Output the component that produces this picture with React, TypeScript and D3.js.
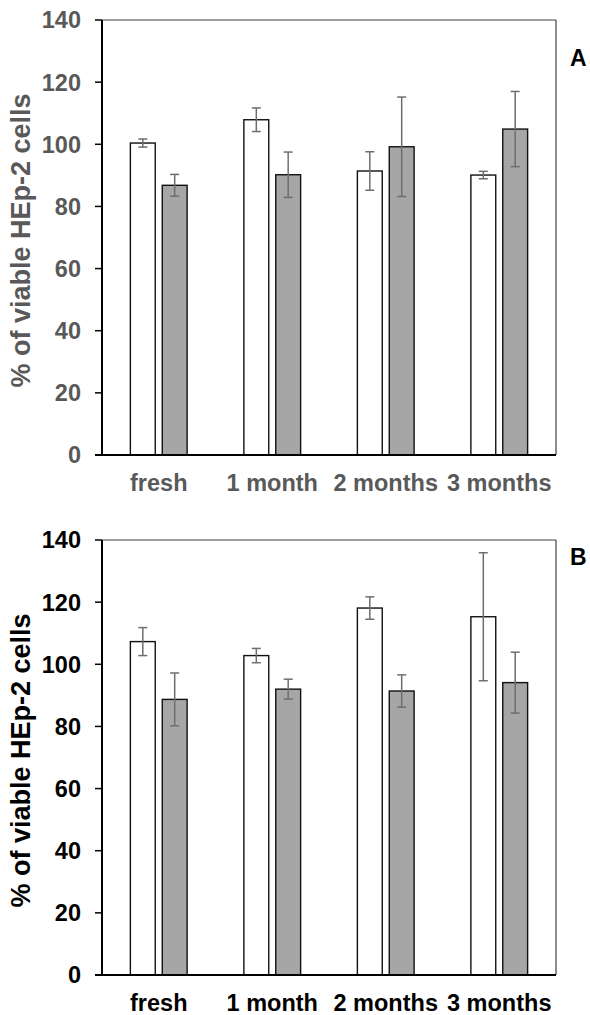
import React from "react";
import * as d3 from "d3";

const categories = ["fresh", "1 month", "2 months", "3 months"];
const yTicks = [0, 20, 40, 60, 80, 100, 120, 140];

const aWhite = [100.4, 107.9, 91.4, 90.1];
const aWhiteErr = [1.3, 3.8, 6.2, 1.2];
const aGray = [86.8, 90.2, 99.2, 104.9];
const aGrayErr = [3.5, 7.3, 16.0, 12.1];

const bWhite = [107.3, 102.8, 118.1, 115.3];
const bWhiteErr = [4.5, 2.3, 3.6, 20.6];
const bGray = [88.7, 92.0, 91.4, 94.1];
const bGrayErr = [8.5, 3.2, 5.2, 9.8];

const yLabel = "% of viable HEp-2 cells";
const FONT = "'Liberation Sans', Arial, sans-serif";

type PanelProps = {
  top: number;
  letter: string;
  letterY: number;
  textColor: string;
  white: number[];
  whiteErr: number[];
  gray: number[];
  grayErr: number[];
};

function Panel({ top, letter, letterY, textColor, white, whiteErr, gray, grayErr }: PanelProps) {
  const left = 102;
  const right = 556;
  const bottom = top + 435;
  const x0 = d3.scaleBand<string>().domain(categories).range([left, right]).paddingInner(0.5).paddingOuter(0.25);
  const x1 = d3.scaleBand<string>().domain(["w", "g"]).range([0, x0.bandwidth()]).paddingInner(0.22);
  const y = d3.scaleLinear().domain([0, 140]).range([bottom, top]);
  const bw = x1.bandwidth();
  const series = [
    { key: "w", vals: white, errs: whiteErr, fill: "#ffffff" },
    { key: "g", vals: gray, errs: grayErr, fill: "#a6a6a6" },
  ];
  return (
    <g>
      <line x1={left} x2={right} y1={top} y2={top} stroke="#404040" strokeWidth={1.2} />
      <line x1={right} x2={right} y1={top} y2={bottom} stroke="#404040" strokeWidth={1.2} />
      {categories.map((c, i) =>
        series.map((s) => {
          const bx = (x0(c) as number) + (x1(s.key) as number);
          const v = s.vals[i];
          const e = s.errs[i];
          const cx = bx + bw / 2;
          return (
            <g key={c + s.key}>
              <rect x={bx} y={y(v)} width={bw} height={y(0) - y(v)} fill={s.fill} stroke="#111" strokeWidth={1.4} />
              <line x1={cx} x2={cx} y1={y(v + e)} y2={y(v - e)} stroke="#6e6e6e" strokeWidth={1.5} />
              <line x1={cx - 4.5} x2={cx + 4.5} y1={y(v + e)} y2={y(v + e)} stroke="#6e6e6e" strokeWidth={1.5} />
              <line x1={cx - 4.5} x2={cx + 4.5} y1={y(v - e)} y2={y(v - e)} stroke="#6e6e6e" strokeWidth={1.5} />
            </g>
          );
        })
      )}
      <line x1={left} x2={left} y1={top} y2={bottom} stroke="#000" strokeWidth={2} />
      <line x1={left - 7} x2={right} y1={bottom} y2={bottom} stroke="#000" strokeWidth={2} />
      {yTicks.map((t) => (
        <g key={t}>
          <line x1={left - 7} x2={left} y1={y(t)} y2={y(t)} stroke="#000" strokeWidth={1.5} />
          <text x={81} y={y(t)} dy="0.36em" textAnchor="end" fontFamily={FONT} fontWeight="bold" fontSize={23.5} fill={textColor}>
            {t}
          </text>
        </g>
      ))}
      {categories.map((c) => (
        <text key={c} x={(x0(c) as number) + x0.bandwidth() / 2} y={bottom + 36} textAnchor="middle" fontFamily={FONT} fontWeight="bold" fontSize={23.5} fill={textColor}>
          {c}
        </text>
      ))}
      <text transform={`translate(30, ${(top + bottom) / 2 + 3}) rotate(-90)`} textAnchor="middle" fontFamily={FONT} fontWeight="bold" fontSize={27} fill={textColor}>
        {yLabel}
      </text>
      <text x={570} y={letterY} fontFamily={FONT} fontWeight="bold" fontSize={23} fill="#000">
        {letter}
      </text>
    </g>
  );
}

export default function App() {
  return (
    <svg width={590} height={1015} style={{ position: "absolute", left: 0, top: 0, background: "#fff" }}>
      <rect x={0} y={0} width={590} height={1015} fill="#fff" />
      <Panel top={20} letter="A" letterY={66} textColor="#595959" white={aWhite} whiteErr={aWhiteErr} gray={aGray} grayErr={aGrayErr} />
      <Panel top={540} letter="B" letterY={565} textColor="#000000" white={bWhite} whiteErr={bWhiteErr} gray={bGray} grayErr={bGrayErr} />
    </svg>
  );
}
